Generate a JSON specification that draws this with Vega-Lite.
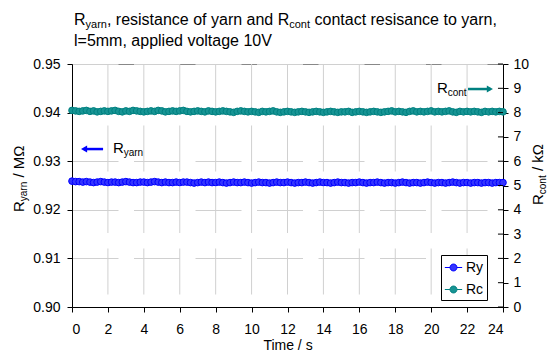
{
  "$schema": "https://vega.github.io/schema/vega-lite/v6.json",
  "width": 431,
  "height": 243,
  "autosize": {"type": "none"},
  "padding": {"left": 72, "top": 64, "right": 51, "bottom": 49},
  "background": "white",
  "config": {
    "font": "Liberation Sans",
    "view": {"stroke": "#888888", "strokeWidth": 1},
    "text": {"font": "Liberation Sans", "color": "black"},
    "axis": {
      "domainColor": "black",
      "domainWidth": 1,
      "tickColor": "black",
      "tickSize": 5,
      "labelFontSize": 14,
      "labelColor": "black",
      "labelFont": "Liberation Sans",
      "labelOverlap": false,
      "gridColor": "#d0d0d0",
      "gridWidth": 1,
      "gridDash": [46, 15.5]
    }
  },
  "datasets": {
    "readings": [
      {"t": 0, "Ry": 0.9259, "Rc": 8.09}, {"t": 0.2, "Ry": 0.9258, "Rc": 8.07}, {"t": 0.4, "Ry": 0.9258, "Rc": 8.05}, {"t": 0.6, "Ry": 0.9257, "Rc": 8.07}, {"t": 0.8, "Ry": 0.9258, "Rc": 8.09},
      {"t": 1, "Ry": 0.9257, "Rc": 8.05}, {"t": 1.2, "Ry": 0.9256, "Rc": 8.07}, {"t": 1.4, "Ry": 0.9257, "Rc": 8.03}, {"t": 1.6, "Ry": 0.9258, "Rc": 8.05}, {"t": 1.8, "Ry": 0.9257, "Rc": 8.07},
      {"t": 2, "Ry": 0.9256, "Rc": 8.05}, {"t": 2.2, "Ry": 0.9257, "Rc": 8.07}, {"t": 2.4, "Ry": 0.9257, "Rc": 8.09}, {"t": 2.6, "Ry": 0.9256, "Rc": 8.05}, {"t": 2.8, "Ry": 0.9257, "Rc": 8.03},
      {"t": 3, "Ry": 0.9258, "Rc": 8.07}, {"t": 3.2, "Ry": 0.9257, "Rc": 8.05}, {"t": 3.4, "Ry": 0.9256, "Rc": 8.09}, {"t": 3.6, "Ry": 0.9256, "Rc": 8.07}, {"t": 3.8, "Ry": 0.9257, "Rc": 8.05},
      {"t": 4, "Ry": 0.9257, "Rc": 8.03}, {"t": 4.2, "Ry": 0.9256, "Rc": 8.05}, {"t": 4.4, "Ry": 0.9257, "Rc": 8.07}, {"t": 4.6, "Ry": 0.9258, "Rc": 8.05}, {"t": 4.8, "Ry": 0.9257, "Rc": 8.09},
      {"t": 5, "Ry": 0.9256, "Rc": 8.07}, {"t": 5.2, "Ry": 0.9257, "Rc": 8.03}, {"t": 5.4, "Ry": 0.9256, "Rc": 8.05}, {"t": 5.6, "Ry": 0.9256, "Rc": 8.07}, {"t": 5.8, "Ry": 0.9257, "Rc": 8.05},
      {"t": 6, "Ry": 0.9256, "Rc": 8.07}, {"t": 6.2, "Ry": 0.9257, "Rc": 8.09}, {"t": 6.4, "Ry": 0.9257, "Rc": 8.05}, {"t": 6.6, "Ry": 0.9256, "Rc": 8.03}, {"t": 6.8, "Ry": 0.9255, "Rc": 8.05},
      {"t": 7, "Ry": 0.9256, "Rc": 8.07}, {"t": 7.2, "Ry": 0.9257, "Rc": 8.05}, {"t": 7.4, "Ry": 0.9256, "Rc": 8.03}, {"t": 7.6, "Ry": 0.9257, "Rc": 8.07}, {"t": 7.8, "Ry": 0.9256, "Rc": 8.05},
      {"t": 8, "Ry": 0.9256, "Rc": 8.03}, {"t": 8.2, "Ry": 0.9257, "Rc": 8.05}, {"t": 8.4, "Ry": 0.9256, "Rc": 8.07}, {"t": 8.6, "Ry": 0.9255, "Rc": 8.05}, {"t": 8.8, "Ry": 0.9256, "Rc": 8.03},
      {"t": 9, "Ry": 0.9257, "Rc": 8.01}, {"t": 9.2, "Ry": 0.9256, "Rc": 8.05}, {"t": 9.4, "Ry": 0.9256, "Rc": 8.07}, {"t": 9.6, "Ry": 0.9257, "Rc": 8.05}, {"t": 9.8, "Ry": 0.9256, "Rc": 8.03},
      {"t": 10, "Ry": 0.9255, "Rc": 8.05}, {"t": 10.2, "Ry": 0.9256, "Rc": 8.03}, {"t": 10.4, "Ry": 0.9257, "Rc": 8.01}, {"t": 10.6, "Ry": 0.9256, "Rc": 8.05}, {"t": 10.8, "Ry": 0.9256, "Rc": 8.03},
      {"t": 11, "Ry": 0.9255, "Rc": 8.05}, {"t": 11.2, "Ry": 0.9256, "Rc": 8.07}, {"t": 11.4, "Ry": 0.9257, "Rc": 8.03}, {"t": 11.6, "Ry": 0.9256, "Rc": 8.01}, {"t": 11.8, "Ry": 0.9256, "Rc": 8.03},
      {"t": 12, "Ry": 0.9257, "Rc": 8.05}, {"t": 12.2, "Ry": 0.9256, "Rc": 8.03}, {"t": 12.4, "Ry": 0.9255, "Rc": 8.01}, {"t": 12.6, "Ry": 0.9256, "Rc": 8.03}, {"t": 12.8, "Ry": 0.9256, "Rc": 8.05},
      {"t": 13, "Ry": 0.9257, "Rc": 8.03}, {"t": 13.2, "Ry": 0.9256, "Rc": 8.01}, {"t": 13.4, "Ry": 0.9255, "Rc": 8.03}, {"t": 13.6, "Ry": 0.9256, "Rc": 8.05}, {"t": 13.8, "Ry": 0.9257, "Rc": 8.03},
      {"t": 14, "Ry": 0.9256, "Rc": 8.01}, {"t": 14.2, "Ry": 0.9256, "Rc": 8.03}, {"t": 14.4, "Ry": 0.9255, "Rc": 8.05}, {"t": 14.6, "Ry": 0.9256, "Rc": 8.03}, {"t": 14.8, "Ry": 0.9257, "Rc": 8.01},
      {"t": 15, "Ry": 0.9256, "Rc": 8.03}, {"t": 15.2, "Ry": 0.9256, "Rc": 8.03}, {"t": 15.4, "Ry": 0.9255, "Rc": 8.05}, {"t": 15.6, "Ry": 0.9256, "Rc": 8.01}, {"t": 15.8, "Ry": 0.9256, "Rc": 8.03},
      {"t": 16, "Ry": 0.9257, "Rc": 8.05}, {"t": 16.2, "Ry": 0.9256, "Rc": 8.03}, {"t": 16.4, "Ry": 0.9255, "Rc": 8.01}, {"t": 16.6, "Ry": 0.9256, "Rc": 8.03}, {"t": 16.8, "Ry": 0.9256, "Rc": 8.05},
      {"t": 17, "Ry": 0.9257, "Rc": 8.03}, {"t": 17.2, "Ry": 0.9256, "Rc": 8.01}, {"t": 17.4, "Ry": 0.9255, "Rc": 8.03}, {"t": 17.6, "Ry": 0.9256, "Rc": 8.05}, {"t": 17.8, "Ry": 0.9256, "Rc": 8.07},
      {"t": 18, "Ry": 0.9255, "Rc": 8.03}, {"t": 18.2, "Ry": 0.9256, "Rc": 8.05}, {"t": 18.4, "Ry": 0.9257, "Rc": 8.03}, {"t": 18.6, "Ry": 0.9256, "Rc": 8.01}, {"t": 18.8, "Ry": 0.9255, "Rc": 8.05},
      {"t": 19, "Ry": 0.9256, "Rc": 8.07}, {"t": 19.2, "Ry": 0.9256, "Rc": 8.03}, {"t": 19.4, "Ry": 0.9255, "Rc": 8.05}, {"t": 19.6, "Ry": 0.9256, "Rc": 8.03}, {"t": 19.8, "Ry": 0.9257, "Rc": 8.05},
      {"t": 20, "Ry": 0.9256, "Rc": 8.07}, {"t": 20.2, "Ry": 0.9255, "Rc": 8.03}, {"t": 20.4, "Ry": 0.9256, "Rc": 8.05}, {"t": 20.6, "Ry": 0.9256, "Rc": 8.03}, {"t": 20.8, "Ry": 0.9255, "Rc": 8.05},
      {"t": 21, "Ry": 0.9256, "Rc": 8.07}, {"t": 21.2, "Ry": 0.9257, "Rc": 8.03}, {"t": 21.4, "Ry": 0.9256, "Rc": 8.01}, {"t": 21.6, "Ry": 0.9255, "Rc": 8.05}, {"t": 21.8, "Ry": 0.9256, "Rc": 8.03},
      {"t": 22, "Ry": 0.9256, "Rc": 8.05}, {"t": 22.2, "Ry": 0.9255, "Rc": 8.03}, {"t": 22.4, "Ry": 0.9256, "Rc": 8.05}, {"t": 22.6, "Ry": 0.9256, "Rc": 8.03}, {"t": 22.8, "Ry": 0.9255, "Rc": 8.01},
      {"t": 23, "Ry": 0.9256, "Rc": 8.05}, {"t": 23.2, "Ry": 0.9256, "Rc": 8.03}, {"t": 23.4, "Ry": 0.9255, "Rc": 8.05}, {"t": 23.6, "Ry": 0.9256, "Rc": 8.03}, {"t": 23.8, "Ry": 0.9256, "Rc": 8.05},
      {"t": 24, "Ry": 0.9256, "Rc": 8.03}
    ]
  },
  "layer": [
    {
      "layer": [
        {
          "data": {"values": [2, 4, 6, 8, 10, 12, 14, 16, 18, 20, 22]},
          "mark": {"type": "rule", "color": "#d0d0d0", "strokeWidth": 1, "strokeDash": [46, 15.5]},
          "encoding": {
            "x": {"field": "data", "type": "quantitative", "axis": {"title": "Time / s", "labelOverlap": false}},
            "y": {"datum": 0.95, "type": "quantitative", "axis": {"title": null, "labelOverlap": false}},
            "y2": {"datum": 0.9}
          }
        },
        {
          "data": {"name": "readings"},
          "transform": [
            {"fold": ["Ry", "Rc"], "as": ["series", "value"]},
            {"filter": "datum.series === 'Ry'"}
          ],
          "mark": {"type": "point", "filled": true, "size": 44, "strokeWidth": 1, "opacity": 1},
          "encoding": {
            "x": {
              "field": "t", "type": "quantitative",
              "scale": {"domain": [0, 24], "nice": false, "zero": false},
              "axis": {
                "values": [0, 2, 4, 6, 8, 10, 12, 14, 16, 18, 20, 22, 24],
                "tickCount": 13, "labelOverlap": false,
                "grid": false, "labelPadding": 10,
                "title": "Time / s", "titleFontSize": 14, "titleFontWeight": "normal",
                "titleColor": "black", "titleFont": "Liberation Sans", "titlePadding": 2
              }
            },
            "y": {
              "field": "value", "type": "quantitative",
              "scale": {"domain": [0.9, 0.95], "nice": false, "zero": false},
              "axis": {
                "orient": "left",
                "values": [0.9, 0.91, 0.92, 0.93, 0.94, 0.95],
                "format": ".2f", "grid": true, "labelOverlap": false, "labelPadding": 7, "title": null
              }
            },
            "stroke": {
              "field": "series", "type": "nominal",
              "scale": {"domain": ["Ry", "Rc"], "range": ["#0000ff", "#008080"]},
              "legend": {
                "orient": "none", "legendX": 369, "legendY": 191, "title": null,
                "padding": 3, "strokeColor": "black", "fillColor": "white",
                "symbolType": "M-1,0H-0.4M0.4,0H1M-0.4,0A0.4,0.4,0,1,1,0.4,0A0.4,0.4,0,1,1,-0.4,0Z",
                "symbolSize": 300, "symbolStrokeWidth": 1, "labelFontSize": 14,
                "labelColor": "black", "labelFont": "Liberation Sans", "labelOffset": 3, "rowPadding": 5
              }
            },
            "fill": {
              "field": "series", "type": "nominal",
              "scale": {"domain": ["Ry", "Rc"], "range": ["#3535ff", "#179494"]},
              "legend": {
                "orient": "none", "legendX": 369, "legendY": 191, "title": null,
                "padding": 3, "strokeColor": "black", "fillColor": "white",
                "symbolType": "M-1,0H-0.4M0.4,0H1M-0.4,0A0.4,0.4,0,1,1,0.4,0A0.4,0.4,0,1,1,-0.4,0Z",
                "symbolSize": 300, "symbolStrokeWidth": 1, "labelFontSize": 14,
                "labelColor": "black", "labelFont": "Liberation Sans", "labelOffset": 3, "rowPadding": 5
              }
            }
          }
        },
        {
          "data": {"values": [{"x": 0.67, "x2": 1.73, "y": 0.9325}]},
          "mark": {"type": "rule", "color": "#0000ff", "strokeWidth": 2.5},
          "encoding": {
            "x": {"field": "x", "type": "quantitative", "axis": {"title": "Time / s", "labelOverlap": false}},
            "x2": {"field": "x2"},
            "y": {"field": "y", "type": "quantitative", "axis": {"title": null, "labelOverlap": false}}
          }
        },
        {
          "data": {"values": [{"x": 0.67, "y": 0.9325}]},
          "mark": {"type": "point", "shape": "triangle-left", "filled": true, "size": 50, "color": "#0000ff", "opacity": 1},
          "encoding": {
            "x": {"field": "x", "type": "quantitative", "axis": {"title": "Time / s", "labelOverlap": false}},
            "y": {"field": "y", "type": "quantitative", "axis": {"title": null, "labelOverlap": false}}
          }
        },
        {
          "data": {"values": [
            {"x": 0.111, "y": 0.958025, "label": "R"},
            {"x": 1.946, "y": 0.958025, "label": ", resistance of yarn and R"},
            {"x": 13.504, "y": 0.958025, "label": "contact resisance to yarn,"},
            {"x": 0.111, "y": 0.953601, "label": "l=5mm, applied voltage 10V"}
          ]},
          "mark": {"type": "text", "fontSize": 16, "align": "left", "baseline": "alphabetic"},
          "encoding": {
            "x": {"field": "x", "type": "quantitative", "axis": {"title": "Time / s", "labelOverlap": false}},
            "y": {"field": "y", "type": "quantitative", "axis": {"title": null, "labelOverlap": false}},
            "text": {"field": "label"}
          }
        },
        {
          "data": {"values": [
            {"x": 0.7545, "y": 0.957305, "label": "yarn"},
            {"x": 12.097, "y": 0.957305, "label": "cont"}
          ]},
          "mark": {"type": "text", "fontSize": 11, "align": "left", "baseline": "alphabetic"},
          "encoding": {
            "x": {"field": "x", "type": "quantitative", "axis": {"title": "Time / s", "labelOverlap": false}},
            "y": {"field": "y", "type": "quantitative", "axis": {"title": null, "labelOverlap": false}},
            "text": {"field": "label"}
          }
        },
        {
          "data": {"values": [{"x": 2.28, "y": 0.9317, "label": "R"}]},
          "mark": {"type": "text", "fontSize": 15, "align": "left", "baseline": "alphabetic"},
          "encoding": {
            "x": {"field": "x", "type": "quantitative", "axis": {"title": "Time / s", "labelOverlap": false}},
            "y": {"field": "y", "type": "quantitative", "axis": {"title": null, "labelOverlap": false}},
            "text": {"field": "label"}
          }
        },
        {
          "data": {"values": [{"x": 2.88, "y": 0.9311, "label": "yarn"}]},
          "mark": {"type": "text", "fontSize": 10, "align": "left", "baseline": "alphabetic"},
          "encoding": {
            "x": {"field": "x", "type": "quantitative", "axis": {"title": "Time / s", "labelOverlap": false}},
            "y": {"field": "y", "type": "quantitative", "axis": {"title": null, "labelOverlap": false}},
            "text": {"field": "label"}
          }
        },
        {
          "data": {"values": [
            {"x": -2.67, "y": 0.919547, "label": "R"},
            {"x": -2.67, "y": 0.926626, "label": "/ MΩ"}
          ]},
          "mark": {"type": "text", "fontSize": 15, "angle": 270, "align": "left", "baseline": "alphabetic"},
          "encoding": {
            "x": {"field": "x", "type": "quantitative", "axis": {"title": "Time / s", "labelOverlap": false}},
            "y": {"field": "y", "type": "quantitative", "axis": {"title": null, "labelOverlap": false}},
            "text": {"field": "label"}
          }
        },
        {
          "data": {"values": [{"x": -2.5, "y": 0.92177, "label": "yarn"}]},
          "mark": {"type": "text", "fontSize": 10, "angle": 270, "align": "left", "baseline": "alphabetic"},
          "encoding": {
            "x": {"field": "x", "type": "quantitative", "axis": {"title": "Time / s", "labelOverlap": false}},
            "y": {"field": "y", "type": "quantitative", "axis": {"title": null, "labelOverlap": false}},
            "text": {"field": "label"}
          }
        }
      ]
    },
    {
      "layer": [
        {
          "data": {"name": "readings"},
          "transform": [
            {"fold": ["Ry", "Rc"], "as": ["series", "value"]},
            {"filter": "datum.series === 'Rc'"}
          ],
          "mark": {"type": "point", "filled": true, "size": 44, "strokeWidth": 1, "opacity": 1},
          "encoding": {
            "x": {"field": "t", "type": "quantitative", "axis": null},
            "y": {
              "field": "value", "type": "quantitative",
              "scale": {"domain": [0, 10], "nice": false, "zero": false},
              "axis": {
                "orient": "right",
                "values": [0, 1, 2, 3, 4, 5, 6, 7, 8, 9, 10],
                "tickCount": 11, "labelOverlap": false,
                "grid": false, "labelPadding": 5, "title": null
              }
            },
            "stroke": {"field": "series", "type": "nominal"},
            "fill": {"field": "series", "type": "nominal"}
          }
        },
        {
          "data": {"values": [0, 1, 2, 3, 4, 5, 6, 7, 8, 9, 10]},
          "mark": {"type": "rule", "color": "black", "strokeWidth": 1},
          "encoding": {
            "x": {"datum": 23.72, "type": "quantitative", "axis": null},
            "x2": {"datum": 24},
            "y": {"field": "data", "type": "quantitative", "axis": {"title": null, "labelOverlap": false, "grid": false}}
          }
        },
        {
          "data": {"values": [{"x": 22.05, "x2": 23.3, "y": 8.97}]},
          "mark": {"type": "rule", "color": "#008080", "strokeWidth": 2.5},
          "encoding": {
            "x": {"field": "x", "type": "quantitative", "axis": null},
            "x2": {"field": "x2"},
            "y": {"field": "y", "type": "quantitative", "axis": {"title": null, "labelOverlap": false, "grid": false}}
          }
        },
        {
          "data": {"values": [{"x": 23.27, "y": 8.97}]},
          "mark": {"type": "point", "shape": "triangle-right", "filled": true, "size": 50, "color": "#008080", "opacity": 1},
          "encoding": {
            "x": {"field": "x", "type": "quantitative", "axis": null},
            "y": {"field": "y", "type": "quantitative", "axis": {"title": null, "labelOverlap": false, "grid": false}}
          }
        },
        {
          "data": {"values": [{"x": 20.32, "y": 8.81, "label": "R"}]},
          "mark": {"type": "text", "fontSize": 15, "align": "left", "baseline": "alphabetic"},
          "encoding": {
            "x": {"field": "x", "type": "quantitative", "axis": null},
            "y": {"field": "y", "type": "quantitative", "axis": {"title": null, "labelOverlap": false, "grid": false}},
            "text": {"field": "label"}
          }
        },
        {
          "data": {"values": [{"x": 20.92, "y": 8.68, "label": "cont"}]},
          "mark": {"type": "text", "fontSize": 10, "align": "left", "baseline": "alphabetic"},
          "encoding": {
            "x": {"field": "x", "type": "quantitative", "axis": null},
            "y": {"field": "y", "type": "quantitative", "axis": {"title": null, "labelOverlap": false, "grid": false}},
            "text": {"field": "label"}
          }
        },
        {
          "data": {"values": [
            {"x": 26.22, "y": 4.198, "label": "R"},
            {"x": 26.22, "y": 5.593, "label": "/ kΩ"}
          ]},
          "mark": {"type": "text", "fontSize": 15, "angle": 270, "align": "left", "baseline": "alphabetic"},
          "encoding": {
            "x": {"field": "x", "type": "quantitative", "axis": null},
            "y": {"field": "y", "type": "quantitative", "axis": {"title": null, "labelOverlap": false, "grid": false}},
            "text": {"field": "label"}
          }
        },
        {
          "data": {"values": [{"x": 26.39, "y": 4.642, "label": "cont"}]},
          "mark": {"type": "text", "fontSize": 10, "angle": 270, "align": "left", "baseline": "alphabetic"},
          "encoding": {
            "x": {"field": "x", "type": "quantitative", "axis": null},
            "y": {"field": "y", "type": "quantitative", "axis": {"title": null, "labelOverlap": false, "grid": false}},
            "text": {"field": "label"}
          }
        }
      ]
    }
  ],
  "resolve": {"scale": {"y": "independent"}, "axis": {"x": "independent"}}
}
